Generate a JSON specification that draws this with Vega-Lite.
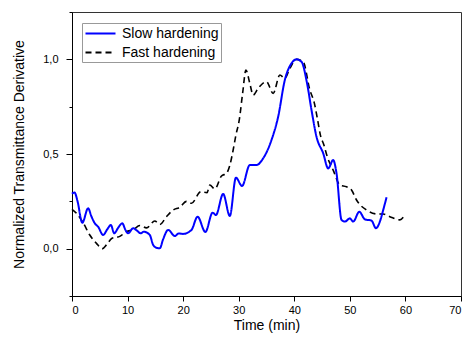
{
  "$schema": "https://vega.github.io/schema/vega-lite/v6.json",
  "width": 389,
  "height": 284,
  "autosize": {"type": "none"},
  "padding": {"left": 72, "top": 12, "right": 2, "bottom": 45},
  "background": "white",
  "config": {
    "font": "Liberation Sans",
    "view": {"stroke": "#333333", "strokeWidth": 1}
  },
  "datasets": {
    "slow": [
      {"t":0,"v":0.29},{"t":0.45,"v":0.297},{"t":1.0,"v":0.25},{"t":1.85,"v":0.137},{"t":2.9,"v":0.213},
      {"t":3.5,"v":0.17},{"t":4.1,"v":0.134},{"t":4.7,"v":0.116},{"t":5.6,"v":0.072},{"t":6.3,"v":0.1},
      {"t":7.0,"v":0.125},{"t":7.6,"v":0.081},{"t":8.3,"v":0.11},{"t":9.05,"v":0.134},{"t":9.6,"v":0.1},
      {"t":10.1,"v":0.081},{"t":11.0,"v":0.108},{"t":11.7,"v":0.095},{"t":12.4,"v":0.081},{"t":12.9,"v":0.09},
      {"t":14.0,"v":0.072},{"t":14.6,"v":0.02},{"t":15.2,"v":0.005},{"t":15.8,"v":0.002},{"t":16.4,"v":0.05},
      {"t":17.3,"v":0.099},{"t":18.5,"v":0.067},{"t":19.2,"v":0.08},{"t":20.0,"v":0.078},{"t":21.5,"v":0.099},
      {"t":22.6,"v":0.169},{"t":24.0,"v":0.088},{"t":25.3,"v":0.19},{"t":25.9,"v":0.178},{"t":27.2,"v":0.289},
      {"t":28.4,"v":0.173},{"t":29.5,"v":0.375},{"t":30.6,"v":0.331},{"t":32.0,"v":0.442},{"t":33.2,"v":0.442},
      {"t":34.4,"v":0.477},{"t":35.9,"v":0.574},{"t":37.1,"v":0.697},{"t":38.3,"v":0.891},{"t":39.5,"v":0.979},
      {"t":40.4,"v":1.0},{"t":41.3,"v":0.987},{"t":42.3,"v":0.873},{"t":43.1,"v":0.732},{"t":44.0,"v":0.591},
      {"t":45.2,"v":0.504},{"t":46.1,"v":0.424},{"t":47.0,"v":0.468},{"t":47.6,"v":0.398},{"t":48.5,"v":0.152},
      {"t":49.1,"v":0.143},{"t":50.0,"v":0.16},{"t":50.6,"v":0.143},{"t":51.7,"v":0.195},{"t":52.7,"v":0.155},
      {"t":53.9,"v":0.148},{"t":54.7,"v":0.108},{"t":55.4,"v":0.143},{"t":56.0,"v":0.204},{"t":56.6,"v":0.271}
    ],
    "fast": [
      {"t":0,"v":0.208},{"t":0.8,"v":0.187},{"t":2.0,"v":0.137},{"t":3.2,"v":0.072},{"t":4.4,"v":0.028},
      {"t":5.5,"v":0.0},{"t":6.2,"v":0.02},{"t":7.2,"v":0.055},{"t":8.6,"v":0.065},{"t":9.8,"v":0.09},
      {"t":11.0,"v":0.1},{"t":12.2,"v":0.122},{"t":13.4,"v":0.11},{"t":14.9,"v":0.146},{"t":15.8,"v":0.128},
      {"t":17.0,"v":0.169},{"t":18.2,"v":0.204},{"t":19.4,"v":0.219},{"t":20.6,"v":0.25},{"t":21.5,"v":0.24},
      {"t":23.2,"v":0.301},{"t":24.3,"v":0.296},{"t":24.8,"v":0.336},{"t":25.7,"v":0.315},{"t":26.9,"v":0.384},
      {"t":27.8,"v":0.398},{"t":28.4,"v":0.44},{"t":29.0,"v":0.521},{"t":29.5,"v":0.6},{"t":30.1,"v":0.68},
      {"t":30.7,"v":0.82},{"t":31.3,"v":0.943},{"t":32.0,"v":0.873},{"t":32.6,"v":0.811},{"t":33.5,"v":0.847},
      {"t":35.0,"v":0.882},{"t":36.2,"v":0.82},{"t":37.4,"v":0.917},{"t":38.3,"v":0.9},{"t":39.2,"v":0.952},
      {"t":40.4,"v":1.0},{"t":41.6,"v":0.987},{"t":42.8,"v":0.838},{"t":43.6,"v":0.77},{"t":44.2,"v":0.68},
      {"t":44.7,"v":0.6},{"t":45.3,"v":0.55},{"t":46.0,"v":0.48},{"t":47.0,"v":0.415},{"t":48.2,"v":0.336},
      {"t":49.4,"v":0.327},{"t":50.3,"v":0.31},{"t":51.2,"v":0.257},{"t":53.0,"v":0.204},{"t":55.0,"v":0.183},
      {"t":56.0,"v":0.183},{"t":57.2,"v":0.169},{"t":59.0,"v":0.152},{"t":59.9,"v":0.178}
    ]
  },
  "layer": [
    {
      "data": {"name": "fast"},
      "transform": [{"calculate": "'Fast hardening'", "as": "series"}],
      "mark": {"type": "line", "interpolate": "monotone", "strokeWidth": 1.6},
      "encoding": {
        "x": {"field": "t", "type": "quantitative"},
        "y": {"field": "v", "type": "quantitative"},
        "color": {"field": "series", "type": "nominal"},
        "strokeDash": {"field": "series", "type": "nominal"}
      }
    },
    {
      "data": {"name": "slow"},
      "transform": [{"calculate": "'Slow hardening'", "as": "series"}],
      "mark": {"type": "line", "interpolate": "monotone", "strokeWidth": 2},
      "encoding": {
        "x": {
          "field": "t", "type": "quantitative",
          "scale": {"domain": [0, 70], "nice": false, "zero": false},
          "axis": {
            "title": "Time (min)",
            "values": [0,5,10,15,20,25,30,35,40,45,50,55,60,65,70],
            "labelExpr": "datum.value % 10 === 0 ? format(datum.value, 'd') : ''",
            "tickSize": {"condition": {"test": "datum.value % 10 === 0", "value": 5}, "value": 3},
            "grid": false, "domainColor": "#000", "tickColor": "#000",
            "labelFontSize": 11, "labelColor": "#000", "labelPadding": 3,
            "titleFontSize": 14, "titleFontWeight": "normal", "titleColor": "#000", "titlePadding": 3
          }
        },
        "y": {
          "field": "v", "type": "quantitative",
          "scale": {"domain": [-0.25, 1.25], "nice": false, "zero": false},
          "axis": {
            "title": "Normalized Transmittance Derivative",
            "values": [-0.25, 0, 0.25, 0.5, 0.75, 1.0, 1.25],
            "labelExpr": "(datum.value * 2) % 1 === 0 ? replace(format(datum.value, '.1f'), '.', ',') : ''",
            "tickSize": {"condition": {"test": "(datum.value * 2) % 1 === 0", "value": 6}, "value": 3},
            "grid": false, "domainColor": "#000", "tickColor": "#000",
            "labelFontSize": 11, "labelColor": "#000", "labelPadding": 8,
            "titleFontSize": 14, "titleFontWeight": "normal", "titleColor": "#000", "titlePadding": 16
          }
        },
        "color": {
          "field": "series", "type": "nominal",
          "scale": {"domain": ["Slow hardening", "Fast hardening"], "range": ["#0000ff", "#000000"]},
          "legend": {
            "title": null, "orient": "none", "legendX": 10, "legendY": 11,
            "symbolType": "M-2,0H2", "symbolSize": 225, "symbolStrokeWidth": 1.8, "symbolOffset": 8,
            "labelFontSize": 14, "labelColor": "#000", "labelOffset": 13,
            "strokeColor": "#999999", "padding": 2, "rowPadding": 3, "fillColor": "white"
          }
        },
        "strokeDash": {
          "field": "series", "type": "nominal",
          "scale": {"domain": ["Slow hardening", "Fast hardening"], "range": [[1, 0], [6, 4]]},
          "legend": {
            "title": null, "orient": "none", "legendX": 10, "legendY": 11,
            "symbolType": "M-2,0H2", "symbolSize": 225, "symbolStrokeWidth": 1.8, "symbolOffset": 8,
            "labelFontSize": 14, "labelColor": "#000", "labelOffset": 13,
            "strokeColor": "#999999", "padding": 2, "rowPadding": 3, "fillColor": "white"
          }
        }
      }
    }
  ]
}
